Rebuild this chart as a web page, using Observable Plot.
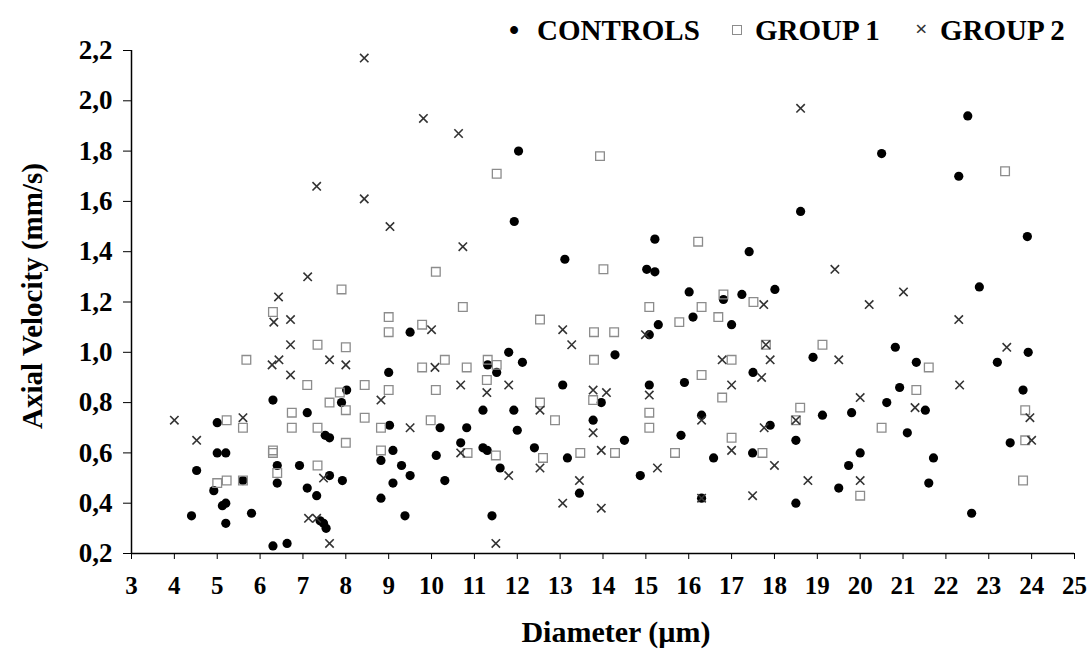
<!DOCTYPE html>
<html><head><meta charset="utf-8">
<script src="https://cdn.jsdelivr.net/npm/d3@7"></script>
<script src="https://cdn.jsdelivr.net/npm/@observablehq/plot@0.6"></script>
<style>
body{margin:0;background:#fff;font-family:"Liberation Serif","Times New Roman",serif;font-weight:bold;}
#legend{position:relative;z-index:2;height:20px;width:1091px;font-size:29px;color:#000;}
#legend span{position:absolute;white-space:nowrap;line-height:1;}
</style></head><body>
<div id="legend"></div>
<div id="chart"></div>
<script>
const seriesNames = ["CONTROLS", "GROUP 1", "GROUP 2"];
const xTicks = [3,4,5,6,7,8,9,10,11,12,13,14,15,16,17,18,19,20,21,22,23,24,25];
const yTicks = [0.2,0.4,0.6,0.8,1.0,1.2,1.4,1.6,1.8,2.0,2.2];

const controls = [
[4.4,0.35],[4.52,0.53],[4.92,0.45],[5.0,0.72],[5.0,0.60],[5.2,0.60],[5.12,0.39],[5.2,0.40],[5.2,0.32],[5.6,0.49],[5.8,0.36],
[6.3,0.81],[6.3,0.23],[6.4,0.55],[6.4,0.48],[6.63,0.24],[6.92,0.55],[7.1,0.76],[7.1,0.46],[7.32,0.43],[7.4,0.33],[7.48,0.32],
[7.54,0.30],[7.52,0.67],[7.62,0.66],[7.62,0.51],[7.9,0.80],[8.02,0.85],[7.92,0.49],[8.82,0.57],[8.82,0.42],[9.0,0.92],[9.02,0.71],
[9.1,0.61],[9.1,0.48],[9.3,0.55],[9.5,0.51],[9.38,0.35],[9.5,1.08],[10.11,0.59],[10.2,0.70],[10.31,0.49],[10.68,0.64],[10.82,0.70],
[11.2,0.77],[11.2,0.62],[11.3,0.61],[11.31,0.95],[11.52,0.92],[11.41,0.35],[11.6,0.54],[11.8,1.00],[11.93,1.52],[11.92,0.77],
[12.0,0.69],[12.03,1.80],[12.12,0.96],[12.4,0.62],[13.06,0.87],[13.11,1.37],[13.17,0.58],[13.45,0.44],[13.77,0.73],[13.96,0.80],
[14.28,0.99],[14.5,0.65],[14.87,0.51],[15.02,1.33],[15.08,1.07],[15.08,0.87],[15.21,1.45],[15.21,1.32],[15.29,1.11],[15.82,0.67],
[15.9,0.88],[16.01,1.24],[16.1,1.14],[16.3,0.42],[16.3,0.75],[16.58,0.58],[16.81,1.21],[17.0,1.11],[17.24,1.23],[17.41,1.40],
[17.49,0.60],[17.5,0.92],[17.9,0.71],[18.01,1.25],[18.5,0.65],[18.5,0.40],[18.61,1.56],[18.9,0.98],[19.12,0.75],[19.5,0.46],
[19.73,0.55],[19.8,0.76],[20.0,0.60],[20.5,1.79],[20.62,0.80],[20.82,1.02],[20.92,0.86],[21.1,0.68],[21.31,0.96],[21.52,0.77],
[21.6,0.48],[21.71,0.58],[22.3,1.70],[22.51,1.94],[22.6,0.36],[22.78,1.26],[23.2,0.96],[23.5,0.64],[23.8,0.85],[23.9,1.46],[23.92,1.00]
];

const group1 = [
[5.0,0.48],[5.22,0.73],[5.22,0.49],[5.6,0.70],[5.6,0.49],[5.68,0.97],[6.3,0.61],[6.3,0.60],[6.4,0.52],[6.3,1.16],[6.74,0.76],
[6.74,0.70],[7.1,0.87],[7.34,1.03],[7.34,0.70],[7.34,0.55],[7.62,0.80],[7.86,0.84],[7.9,1.25],[8.0,1.02],[8.0,0.77],[8.0,0.64],
[8.44,0.87],[8.44,0.74],[8.82,0.70],[8.82,0.61],[9.0,1.14],[9.0,1.08],[9.0,0.85],[9.78,1.11],[9.78,0.94],[9.98,0.73],[10.1,1.32],
[10.1,0.85],[10.31,0.97],[10.73,1.18],[10.82,0.94],[10.84,0.60],[11.29,0.89],[11.31,0.97],[11.5,0.59],[11.52,0.95],[11.52,1.71],
[12.53,1.13],[12.53,0.80],[12.6,0.58],[12.88,0.73],[13.47,0.60],[13.79,1.08],[13.79,0.97],[13.77,0.81],[13.93,1.78],[14.01,1.33],
[14.26,1.08],[14.28,0.60],[15.08,1.18],[15.08,0.76],[15.08,0.70],[15.68,0.60],[15.78,1.12],[16.22,1.44],[16.3,1.18],[16.3,0.91],
[16.69,1.14],[16.78,0.82],[16.81,1.23],[17.0,0.97],[17.0,0.66],[17.51,1.20],[17.72,0.60],[17.8,1.03],[18.5,0.73],[18.6,0.78],
[19.12,1.03],[20.0,0.43],[20.5,0.70],[21.31,0.85],[21.6,0.94],[23.38,1.72],[23.85,0.77],[23.85,0.65],[23.8,0.49]
];

const group2 = [
[4.0,0.73],[4.52,0.65],[5.6,0.74],[6.28,0.95],[6.32,1.12],[6.43,1.22],[6.44,0.97],[6.71,1.13],[6.71,1.03],[6.71,0.91],[7.11,1.30],
[7.13,0.34],[7.32,1.66],[7.32,0.34],[7.48,0.50],[7.62,0.97],[7.62,0.24],[8.0,0.95],[8.43,2.17],[8.43,1.61],[8.82,0.81],[9.03,1.50],
[9.5,0.70],[9.81,1.93],[10.0,1.09],[10.08,0.94],[10.63,1.87],[10.68,0.87],[10.68,0.60],[10.73,1.42],[11.29,0.84],[11.5,0.24],
[11.8,0.87],[11.8,0.51],[12.53,0.77],[12.53,0.54],[13.06,1.09],[13.06,0.40],[13.27,1.03],[13.45,0.49],[13.77,0.85],[13.77,0.68],
[13.96,0.61],[13.96,0.38],[14.08,0.84],[14.99,1.07],[15.08,0.83],[15.27,0.54],[16.3,0.73],[16.3,0.42],[16.78,0.97],[17.0,0.87],
[17.0,0.61],[17.49,0.43],[17.7,0.90],[17.75,1.19],[17.76,0.70],[17.8,1.03],[17.9,0.97],[18.0,0.55],[18.5,0.73],[18.61,1.97],
[18.78,0.49],[19.41,1.33],[19.5,0.97],[20.0,0.82],[20.0,0.49],[20.21,1.19],[21.01,1.24],[21.28,0.78],[22.3,1.13],[22.32,0.87],
[23.42,1.02],[23.96,0.74],[24.0,0.65]
];

// Legend (HTML, above the SVG)
const legend = document.getElementById("legend");
const legendItems = [
  {symLeft: 509, textLeft: 537},
  {symLeft: 730, textLeft: 755},
  {symLeft: 915, textLeft: 940}
];
legendItems.forEach((it, i) => {
  const s = document.createElement("span");
  if (i === 1) {
    s.style.cssText = `left:${it.symLeft+2}px;top:25px;width:8px;height:8px;border:1.2px solid #8c8c8c;`;
  } else if (i === 0) {
    s.textContent = "•"; s.style.cssText = `left:${it.symLeft}px;top:16px;font-size:29px;`;
  } else {
    s.textContent = "×"; s.style.cssText = `left:${it.symLeft}px;top:18px;font-size:22px;color:#333;`;
  }
  legend.appendChild(s);
  const t = document.createElement("span");
  t.textContent = seriesNames[i];
  t.style.cssText = `left:${it.textLeft}px;top:16px;`;
  legend.appendChild(t);
});

const fmt = d => d.toFixed(1).replace(".", ",");

const chart = Plot.plot({
  width: 1091,
  height: 630,
  marginTop: 30,
  marginBottom: 97,
  marginLeft: 131,
  marginRight: 17,
  style: {fontFamily: "'Liberation Serif', 'Times New Roman', serif", fontWeight: "bold", fontSize: "25px", color: "black", background: "transparent", overflow: "visible"},
  x: {domain: [3, 25]},
  y: {domain: [0.2, 2.2]},
  marks: [
    Plot.axisX({ticks: xTicks, tickSize: 6, tickPadding: 17, fontSize: 25, label: null, tickFormat: d => String(d)}),
    Plot.axisY({ticks: yTicks, tickSize: 8, tickPadding: 11, fontSize: 27, label: null, tickFormat: fmt}),
    Plot.ruleX([3], {stroke: "black", strokeWidth: 1.5}),
    Plot.ruleY([0.2], {stroke: "black", strokeWidth: 1.5}),
    Plot.dot(controls, {x: d => d[0], y: d => d[1], r: 4.6, fill: "black", stroke: "none"}),
    Plot.dot(group1, {x: d => d[0], y: d => d[1], symbol: "square", r: 4.9, fill: "none", stroke: "#8c8c8c", strokeWidth: 1.3}),
    Plot.dot(group2, {x: d => d[0], y: d => d[1], symbol: "times", r: 3.9, stroke: "#333", strokeWidth: 1.6}),
    Plot.text(["Diameter (µm)"], {text: d => d, frameAnchor: "bottom", lineAnchor: "middle", dx: 13, dy: 79, fontSize: 30, fontWeight: "bold"}),
    Plot.text(["Axial Velocity (mm/s)"], {text: d => d, frameAnchor: "left", textAnchor: "middle", lineAnchor: "middle", rotate: -90, dx: -99, dy: -6, fontSize: 29, fontWeight: "bold"})
  ]
});
document.getElementById("chart").appendChild(chart);
</script>
</body></html>
